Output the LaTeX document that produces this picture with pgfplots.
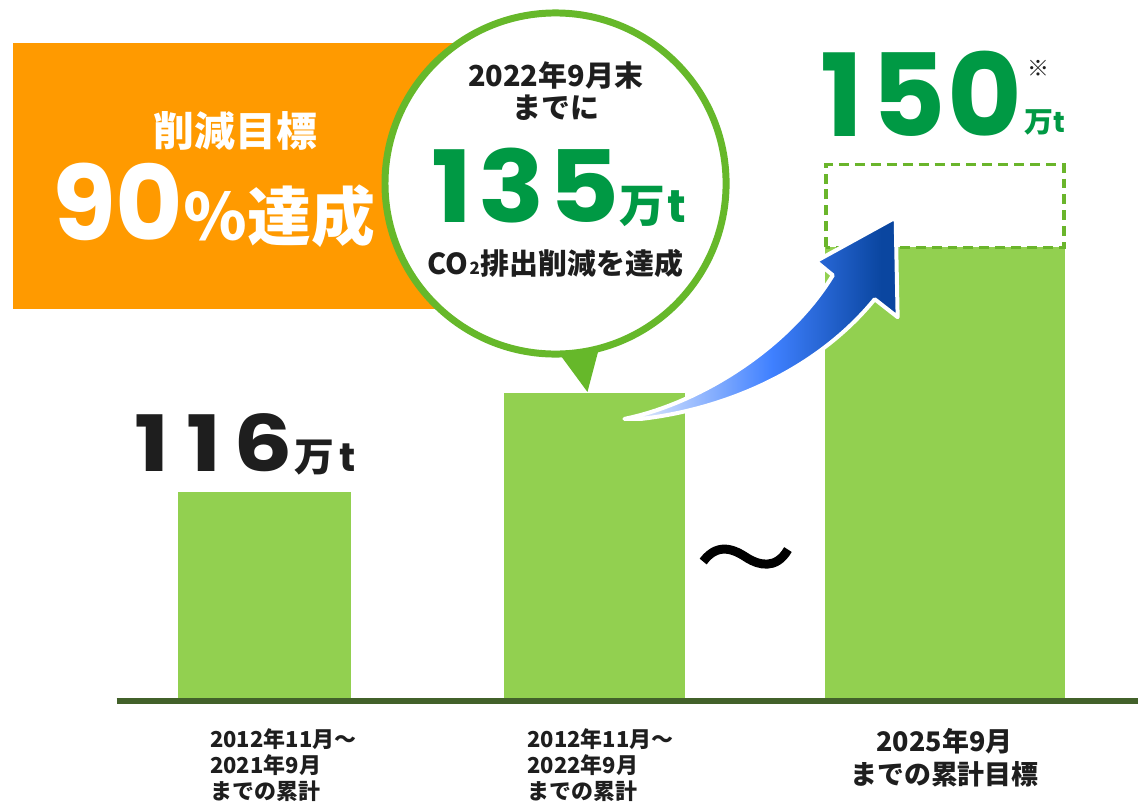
\documentclass[border=0pt]{standalone}
\usepackage{pgfplots}
\pgfplotsset{compat=1.18}
\usepackage{graphicx}
\usepackage{fontspec}
\newfontfamily\jp{Noto Sans CJK JP}
\newfontfamily\pop{Poppins}
\definecolor{orng}{HTML}{FF9A00}
\definecolor{barg}{HTML}{92D050}
\definecolor{circg}{HTML}{66B82A}
\definecolor{txtg}{HTML}{009944}
\definecolor{dashg}{HTML}{6AB52B}
\definecolor{basec}{HTML}{42612A}
\definecolor{arrD}{HTML}{0A46A0}
\definecolor{arrM}{HTML}{3F80FF}
\definecolor{arrL}{HTML}{EEF3FD}
\definecolor{ink}{HTML}{1E1E1E}
\pgfdeclarehorizontalshading{arrsh}{100bp}{color(0bp)=(arrL); color(25bp)=(arrL);
  color(52bp)=(arrM); color(72bp)=(arrD); color(100bp)=(arrD)}

\begin{document}
\begin{tikzpicture}
\begin{axis}[
  scale only axis, width=1141pt, height=802pt,
  xmin=0, xmax=1141, ymin=-99, ymax=703,
  axis x line=middle, axis y line=none,
  axis line style={draw=none}, xtick style={draw=none}, ytick=\empty,
  xtick={284,602,947},
  xticklabels={
    {\begin{tabular}{@{}l@{}}2012年11月～\\2021年9月\\までの累計\end{tabular}},
    {\begin{tabular}{@{}l@{}}2012年11月～\\2022年9月\\までの累計\end{tabular}},
    {\fontsize{27}{32}\selectfont\begin{tabular}{@{}c@{}}2025年9月\\までの累計目標\end{tabular}}},
  xticklabel style={anchor=north, yshift=-22pt, text=ink,
    font=\jp\bfseries\fontsize{22}{23.5}\selectfont},
  clip=false,
]
% frame of the picture
\path (axis cs:0,-99) rectangle (axis cs:1141,703);

% orange badge
\fill[orng] (axis cs:13,660) rectangle (axis cs:470,393);
\node[text=white, font=\jp\bfseries\fontsize{41}{41}\selectfont] at (axis cs:236,572) {削減目標};
\node[anchor=base west, text=white, inner sep=0pt] at (axis cs:52,462)
  {{\pop\bfseries\fontsize{104}{104}\selectfont 90}{\jp\bfseries\fontsize{64}{64}\selectfont ％達成}};

% bars
\addplot[ybar, bar shift=0pt, bar width=174, fill=barg, draw=none] coordinates {(265,210)};
\addplot[ybar, bar shift=0pt, bar width=182, fill=barg, draw=none] coordinates {(596,309)};
\addplot[ybar, bar shift=0pt, bar width=241, fill=barg, draw=none] coordinates {(947.5,455)};
% target (dashed)
\addplot[draw=dashg, line width=3.5pt, dash pattern=on 10pt off 6pt]
  coordinates {(828,455) (828,538) (1067,538) (1067,455) (828,455)};

% speech bubble
\fill[circg] (axis cs:550,363) -- (axis cs:589,310) -- (axis cs:603,363) -- cycle;
\draw[circg, line width=7pt, fill=white] (axis cs:557,519) circle[radius=171pt];
\node[text=ink, font=\jp\bfseries\fontsize{29}{29}\selectfont] at (axis cs:557,627) {2022年9月末};
\node[text=ink, font=\jp\bfseries\fontsize{29}{29}\selectfont] at (axis cs:557,595) {までに};
\node[anchor=base, text=txtg, inner sep=0pt] at (axis cs:560,480)
  {{\pop\bfseries\fontsize{100}{100}\selectfont\scalebox{1.1}[1]{1\kern6pt 3\kern3pt 5}}{\jp\bfseries\fontsize{46}{46}\selectfont 万}\,{\pop\bfseries\fontsize{46}{46}\selectfont t}};
\node[text=ink, font=\jp\bfseries\fontsize{29}{29}\selectfont] at (axis cs:557,439)
  {CO\kern1pt{\fontsize{17}{17}\selectfont 2}\kern1pt 排出削減を達成};

% value labels
\node[anchor=base west, text=ink, inner sep=0pt] at (axis cs:135,230)
  {{\pop\bfseries\fontsize{78}{78}\selectfont\scalebox{1.2}[1]{1\kern14pt 1\kern10pt 6}}\,{\jp\bfseries\fontsize{40}{40}\selectfont 万}\enspace{\pop\bfseries\fontsize{40}{40}\selectfont t}};
\node[anchor=base, text=txtg, inner sep=0pt] at (axis cs:924,566)
  {\pop\bfseries\fontsize{115}{115}\selectfont 1\kern8pt 5\kern2pt 0};
\node[anchor=base west, text=txtg, inner sep=0pt] at (axis cs:1027,570)
  {{\jp\bfseries\fontsize{29}{29}\selectfont 万}{\pop\bfseries\fontsize{29}{29}\selectfont t}};
\node[text=ink, font=\jp\fontsize{22}{22}\selectfont] at (axis cs:1041,634) {※};

% arrow
\shadedraw[shading=arrsh, draw=white, line width=4pt, line join=round]
  (axis cs:626,283) .. controls (axis cs:700,298) and (axis cs:790,353) .. (axis cs:835,427)
  -- (axis cs:818,441) -- (axis cs:898,485) -- (axis cs:900,385) -- (axis cs:877,403)
  .. controls (axis cs:820,333) and (axis cs:730,293) .. (axis cs:643,283) -- cycle;

% break mark
\draw[black, line width=9pt]
  (axis cs:705,140) .. controls (axis cs:722,163) and (axis cs:742,148) .. (axis cs:750,143)
  .. controls (axis cs:760,137) and (axis cs:778,131) .. (axis cs:790,152);

% baseline
\draw[basec, line width=6pt] (axis cs:117,0) -- (axis cs:1141,0);
\end{axis}
\end{tikzpicture}
\end{document}
